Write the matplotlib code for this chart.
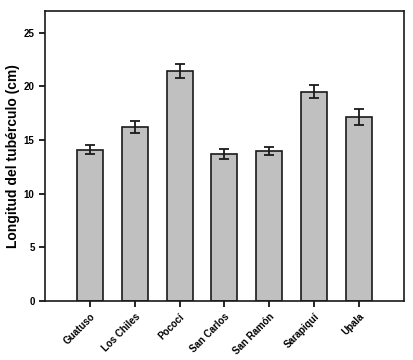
import numpy as np
import matplotlib
matplotlib.use("Agg")
import matplotlib.pyplot as plt

plt.rcParams['font.family'] = ['Liberation Sans', 'DejaVu Sans']

# Data
sites = ['Guatuso', 'Los Chiles', 'Pococí', 'San Carlos', 'San Ramón', 'Sarapiquí', 'Upala']
length_cm = [14.1, 16.2, 21.4, 13.7, 14.0, 19.5, 17.1]
err_cm = [0.42, 0.55, 0.65, 0.47, 0.36, 0.6, 0.74]

fig = plt.figure(figsize=(4.13, 3.6), dpi=100)
ax = fig.add_axes([0.109, 0.164, 0.869, 0.805])

x = np.arange(1, len(sites) + 1)
ax.bar(x, length_cm, width=0.58, color='#c0c0c0', edgecolor='#1a1a1a', linewidth=1.2,
       yerr=err_cm, capsize=3.5, error_kw=dict(elinewidth=1.3, capthick=1.3, ecolor='#1a1a1a'))

ax.set_xlim(0, 8)
ax.set_ylim(0, 27)
ax.set_yticks([0, 5, 10, 15, 20, 25])
ax.set_xticks(x)
ax.set_xticklabels(sites, rotation=45, ha='right', rotation_mode='anchor', fontsize=7, fontweight='bold')
for lab in ax.get_yticklabels():
    lab.set_fontsize(7)
    lab.set_fontweight('bold')

ax.tick_params(direction='out', length=4, width=1.2, top=False, right=False)
for s in ax.spines.values():
    s.set_linewidth(1.2)
    s.set_color('#1a1a1a')

ax.set_ylabel('Longitud del tubérculo (cm)', fontsize=10, fontweight='bold', labelpad=3)

fig.savefig('out.png', dpi=100)
